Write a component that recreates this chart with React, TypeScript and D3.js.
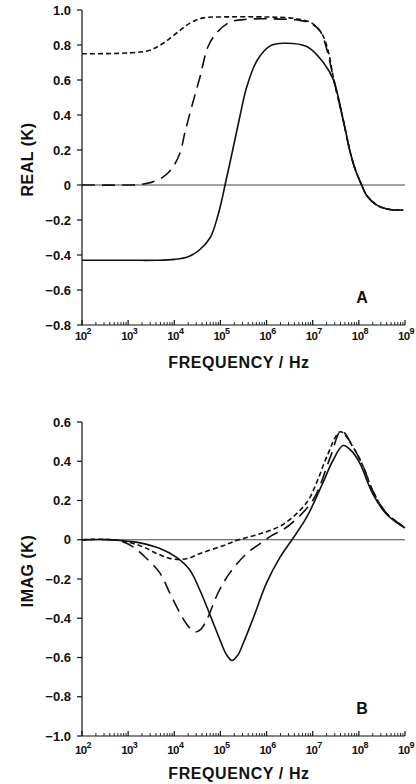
import React from "react";
import * as d3 from "d3";

// log10(frequency / Hz) and value pairs

// panel A : real part
const realSolidExp = [2, 3, 3.6, 4, 4.3, 4.55, 4.78, 4.95, 5.03, 5.1, 5.25, 5.42, 5.57, 5.79, 6.08, 6.37, 6.88, 7.23, 7.45, 7.67, 7.81, 7.92, 8.06, 8.17, 8.39, 8.67, 8.96];
const realSolidVal = [-0.43, -0.43, -0.43, -0.425, -0.41, -0.37, -0.3, -0.17, -0.085, 0, 0.18, 0.39, 0.56, 0.71, 0.795, 0.81, 0.79, 0.7, 0.6, 0.36, 0.19, 0.09, 0, -0.06, -0.115, -0.14, -0.143];

const realShortExp = [2, 3.04, 3.47, 3.76, 4.06, 4.34, 4.63, 5.0, 6.0, 6.5, 6.75, 6.95, 7.1, 7.23, 7.35, 7.45, 7.67, 7.81, 7.92, 8.06, 8.17, 8.39, 8.67, 8.96];
const realShortVal = [0.75, 0.755, 0.77, 0.81, 0.87, 0.925, 0.955, 0.96, 0.96, 0.955, 0.945, 0.93, 0.9, 0.85, 0.75, 0.61, 0.36, 0.19, 0.09, 0, -0.06, -0.115, -0.14, -0.143];

const realLongExp = [2, 3, 3.26, 3.5, 3.76, 3.95, 4.12, 4.23, 4.38, 4.56, 4.73, 4.92, 5.2, 5.49, 6.0, 6.73, 6.95, 7.16, 7.3, 7.45, 7.67, 7.81, 7.92, 8.06, 8.17, 8.39, 8.67, 8.96];
const realLongVal = [0, 0, 0.003, 0.015, 0.046, 0.095, 0.18, 0.3, 0.45, 0.62, 0.79, 0.87, 0.93, 0.945, 0.95, 0.94, 0.925, 0.88, 0.78, 0.61, 0.36, 0.19, 0.09, 0, -0.06, -0.115, -0.14, -0.143];

// panel B : imaginary part
const imagSolidExp = [2, 2.6, 3.0, 3.26, 3.69, 4.05, 4.34, 4.56, 4.77, 4.99, 5.13, 5.25, 5.37, 5.49, 5.71, 6.0, 6.29, 6.55, 6.87, 7.22, 7.43, 7.66, 7.85, 8.02, 8.3, 8.6, 9.0];
const imagSolidVal = [0, 0, -0.008, -0.016, -0.045, -0.09, -0.155, -0.26, -0.38, -0.51, -0.585, -0.615, -0.59, -0.53, -0.4, -0.22, -0.09, 0, 0.115, 0.29, 0.4, 0.48, 0.45, 0.39, 0.235, 0.13, 0.06];

const imagShortExp = [2, 2.7, 3.26, 3.62, 3.9, 4.12, 4.3, 4.56, 5.06, 5.4, 5.86, 6.37, 6.87, 7.1, 7.3, 7.6, 7.88, 8.1, 8.3, 8.6, 9.0];
const imagShortVal = [0, 0, -0.03, -0.07, -0.095, -0.1, -0.095, -0.07, -0.03, 0, 0.03, 0.08, 0.19, 0.3, 0.42, 0.55, 0.47, 0.37, 0.25, 0.135, 0.062];

const imagLongExp = [2, 2.8, 3.1, 3.33, 3.69, 3.9, 4.16, 4.3, 4.45, 4.58, 4.7, 4.95, 5.2, 5.57, 5.86, 6.1, 6.44, 7.0, 7.38, 7.62, 7.88, 8.1, 8.3, 8.6, 9.0];
const imagLongVal = [0, -0.005, -0.035, -0.08, -0.17, -0.27, -0.39, -0.44, -0.47, -0.455, -0.41, -0.27, -0.17, -0.07, -0.02, 0.02, 0.065, 0.2, 0.42, 0.555, 0.47, 0.37, 0.25, 0.135, 0.062];

const realTicks = [1.0, 0.8, 0.6, 0.4, 0.2, 0, -0.2, -0.4, -0.6, -0.8];
const imagTicks = [0.6, 0.4, 0.2, 0, -0.2, -0.4, -0.6, -0.8, -1.0];
const decades = [2, 3, 4, 5, 6, 7, 8, 9];

const FONT = "'Liberation Sans', Arial, sans-serif";

const fmt = (v: number) => {
  if (v === 0) return "0";
  const s = Math.abs(v).toFixed(1);
  return v < 0 ? "\u2212" + s : s;
};

type Series = { exp: number[]; val: number[]; dash?: string };

const Panel = ({
  top, bottom, domain, ticks, series, ylabel, letter, tickGap,
}: {
  top: number; bottom: number; domain: [number, number]; ticks: number[];
  series: Series[]; ylabel: string; letter: string; tickGap: number;
}) => {
  const x = d3.scaleLog().domain([1e2, 1e9]).range([82, 405]);
  const y = d3.scaleLinear().domain(domain).range([bottom, top]);
  const line = d3
    .line<[number, number]>()
    .x((d) => x(Math.pow(10, d[0])))
    .y((d) => y(d[1]))
    .curve(d3.curveCatmullRom.alpha(0.5));

  const minor: number[] = [];
  decades.slice(0, -1).forEach((e) => {
    for (let m = 2; m <= 9; m++) minor.push(m * Math.pow(10, e));
  });

  return (
    <g>
      {/* y axis */}
      <line x1={82} x2={82} y1={y(domain[1])} y2={y(domain[0])} stroke="#111" strokeWidth={1.2} />
      {ticks.map((t) => (
        <g key={t}>
          <line x1={77} x2={82} y1={y(t)} y2={y(t)} stroke="#111" strokeWidth={1.2} />
          <text x={71} y={y(t)} dy="0.36em" textAnchor="end" fontSize={13} fontWeight="bold" fontFamily={FONT} fill="#111">
            {fmt(t)}
          </text>
        </g>
      ))}
      {/* x axis */}
      <line x1={82} x2={x(1e9)} y1={bottom} y2={bottom} stroke="#111" strokeWidth={1.2} />
      {minor.map((f) => (
        <line key={f} x1={x(f)} x2={x(f)} y1={bottom} y2={bottom - 3} stroke="#111" strokeWidth={0.9} />
      ))}
      {decades.map((e) => (
        <g key={e}>
          <line x1={x(Math.pow(10, e))} x2={x(Math.pow(10, e))} y1={bottom} y2={bottom - 5} stroke="#111" strokeWidth={1.2} />
          <text x={x(Math.pow(10, e)) + 1} y={bottom + tickGap} textAnchor="middle" fontSize={11.5} fontWeight="bold" fontFamily={FONT} fill="#111" letterSpacing={-0.6}>
            10<tspan fontSize={9} dy={-6}>{e}</tspan>
          </text>
        </g>
      ))}
      <text x={239} y={bottom + 42.5} textAnchor="middle" fontSize={16} fontWeight="bold" fontFamily={FONT} fill="#111" letterSpacing={0.6}>
        FREQUENCY / Hz
      </text>
      {/* zero line */}
      <line x1={82} x2={x(1e9)} y1={y(0)} y2={y(0)} stroke="#333" strokeWidth={0.9} />
      {/* curves */}
      {series.map((s, i) => (
        <path
          key={i}
          d={line(s.exp.map((e, j) => [e, s.val[j]] as [number, number])) || ""}
          fill="none"
          stroke="#111"
          strokeWidth={1.6}
          strokeDasharray={s.dash}
        />
      ))}
      <text
        transform={`translate(33,${(top + bottom) / 2 - 8}) rotate(-90)`}
        textAnchor="middle"
        fontSize={16}
        fontWeight="bold"
        fontFamily={FONT}
        fill="#111"
        letterSpacing={0.5}
      >
        {ylabel}
      </text>
      <text x={362} y={bottom - 22} textAnchor="middle" fontSize={16} fontWeight="bold" fontFamily={FONT} fill="#111">
        {letter}
      </text>
    </g>
  );
};

export default function App() {
  return (
    <svg
      width={416}
      height={784}
      style={{ position: "absolute", left: 0, top: 0, background: "#fff" }}
    >
      <rect width={416} height={784} fill="#fff" />
      <Panel
        top={10}
        bottom={325}
        domain={[-0.8, 1.0]}
        ticks={realTicks}
        ylabel="REAL (K)"
        letter="A"
        tickGap={15}
        series={[
          { exp: realSolidExp, val: realSolidVal },
          { exp: realShortExp, val: realShortVal, dash: "5 3" },
          { exp: realLongExp, val: realLongVal, dash: "13 7" },
        ]}
      />
      <Panel
        top={422}
        bottom={736}
        domain={[-1.0, 0.6]}
        ticks={imagTicks}
        ylabel="IMAG (K)"
        letter="B"
        tickGap={18}
        series={[
          { exp: imagSolidExp, val: imagSolidVal },
          { exp: imagShortExp, val: imagShortVal, dash: "5 3" },
          { exp: imagLongExp, val: imagLongVal, dash: "13 7" },
        ]}
      />
    </svg>
  );
}
